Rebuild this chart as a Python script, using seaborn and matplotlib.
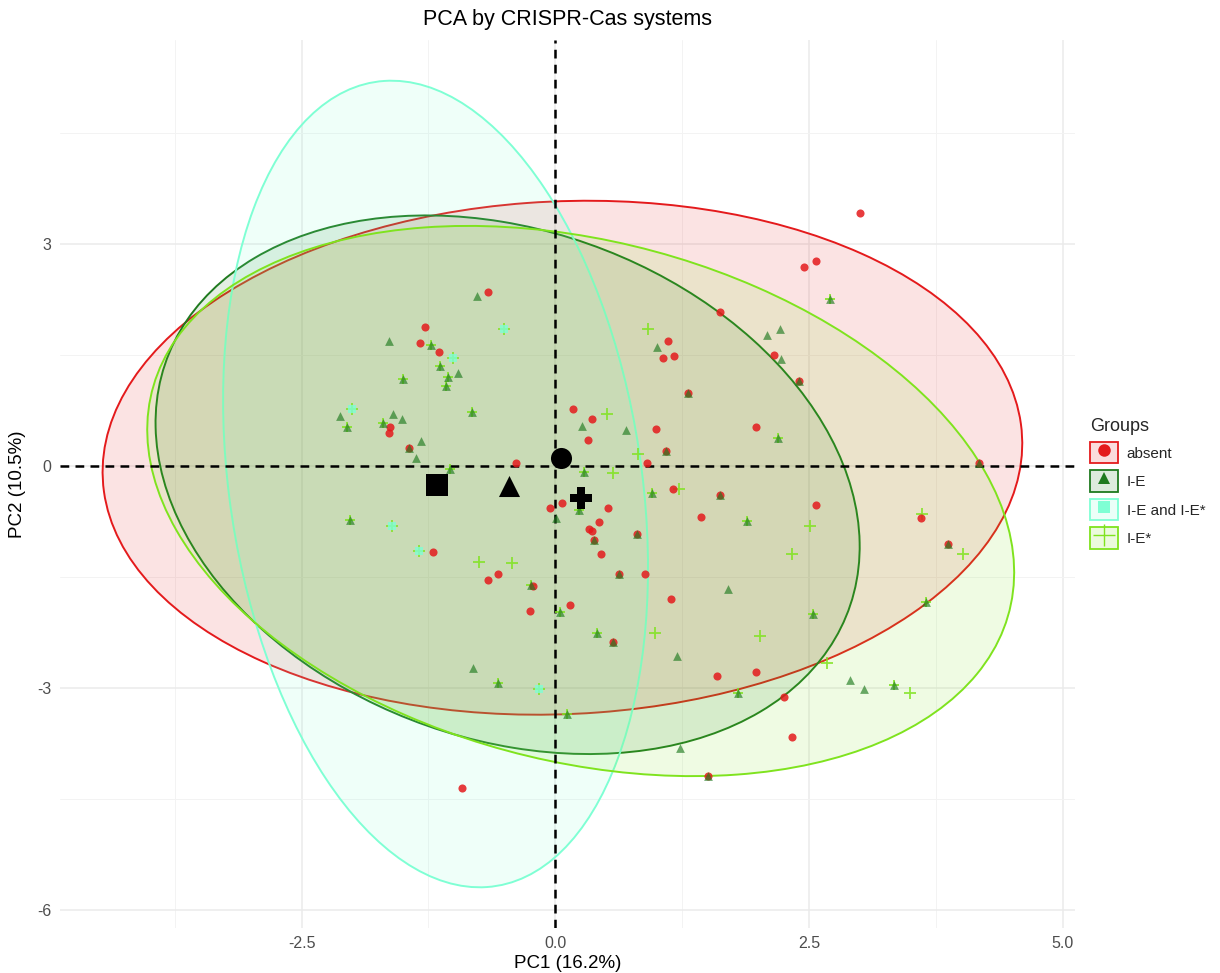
import numpy as np
import pandas as pd
import matplotlib
matplotlib.use("Agg")
import matplotlib.pyplot as plt
import seaborn as sns
from matplotlib.patches import Ellipse, Patch
from matplotlib.lines import Line2D
from matplotlib.legend_handler import HandlerTuple
from matplotlib.colors import to_rgba

# ---------------- data ----------------
groups = ["absent", "I-E", "I-E and I-E*", "I-E*"]
colors = ["#E41A1C", "#1F7A1F", "#7FFFD4", "#7FE31E"]
markers = ["o", "^", "s", "+"]

# individuals shown only with the 'absent' symbol
absent_x = [-0.66, -1.28, -1.33, -1.15, -1.63, -1.64, -1.21, -0.66, -0.56, -0.39, 0.17, 0.36, 0.99, 0.32, 0.90,
            1.98, 1.16, 1.44, 0.07, -0.05, 0.52, 0.43, 0.33, 0.36, 0.45, -0.22, 0.88, 1.14, -0.25, 0.14,
            1.59, 1.98, 2.45, 2.57, 1.62, 1.11, 1.06, 1.17, 2.15, 2.57, 3.60, 2.25, 2.33, -0.92, 3.00]
absent_y = [2.36, 1.88, 1.66, 1.54, 0.53, 0.45, -1.16, -1.54, -1.45, 0.05, 0.78, 0.64, 0.51, 0.35, 0.04,
            0.53, -0.31, -0.69, -0.49, -0.57, -0.57, -0.76, -0.85, -0.87, -1.18, -1.62, -1.45, -1.80, -1.96, -1.88,
            -2.84, -2.78, 2.69, 2.77, 2.09, 1.69, 1.46, 1.49, 1.50, -0.53, -0.70, -3.12, -3.66, -4.35, 3.42]

# individuals shown only with the 'I-E' symbol
ie_x = [-0.77, -1.64, -0.96, -2.12, -1.60, -1.51, -1.32, -1.37, 0.26, 0.70, 0.01, 1.70, 1.20, -0.81, 1.00,
        2.09, 2.21, 2.22, 2.90, 3.04, 1.23]
ie_y = [2.30, 1.69, 1.26, 0.68, 0.70, 0.64, 0.34, 0.11, 0.54, 0.49, -0.70, -1.66, -2.57, -2.72, 1.61,
        1.78, 1.86, 1.45, -2.89, -3.01, -3.81]

# individuals shown only with the 'I-E*' symbol
iestar_x = [-0.75, -0.43, 0.51, 0.81, 0.57, 1.22, 2.33, 0.98, 2.02, 0.91, 2.51, 3.61, 4.02, 2.68, 3.49]
iestar_y = [-1.30, -1.31, 0.70, 0.16, -0.09, -0.31, -1.18, -2.26, -2.30, 1.85, -0.81, -0.64, -1.18, -2.66, -3.07]

# overlapping symbols: absent + I-E
mixA_x = [-1.44, 1.31, 1.09, 1.62, 0.80, 0.63, 0.38, 2.40, 3.87, 4.17, 0.57, 1.50]
mixA_y = [0.24, 0.99, 0.20, -0.39, -0.92, -1.46, -0.99, 1.15, -1.05, 0.05, -2.38, -4.18]

# overlapping symbols: I-E + I-E*
mixB_x = [-1.22, -1.14, -1.06, -1.08, -1.50, -2.05, -1.70, -0.82, -1.04, -2.02, 2.19, 0.95, 1.89, 0.28, 0.23,
          -0.24, 0.05, 0.41, 2.54, 3.65, 1.80, 3.34, 2.71, -0.56, 0.12]
mixB_y = [1.64, 1.36, 1.20, 1.09, 1.18, 0.53, 0.59, 0.73, -0.04, -0.72, 0.38, -0.36, -0.74, -0.08, -0.59,
          -1.61, -1.97, -2.26, -2.00, -1.84, -3.07, -2.95, 2.26, -2.93, -3.35]

# overlapping symbols: I-E and I-E* + I-E*
mixC_x = [-1.01, -2.00, -1.61, -1.34, -0.51, -0.16]
mixC_y = [1.46, 0.77, -0.81, -1.15, 1.86, -3.01]

# group centroids
cent_x = [0.06, -0.46, -1.17, 0.25]
cent_y = [0.11, -0.27, -0.26, -0.43]
cent_markers = ["o", "^", "s", "P"]

# concentration ellipses (centre, semi-axes, rotation in degrees)
ell_cx = [0.07, -0.47, -1.18, 0.25]
ell_cy = [0.115, -0.25, -0.24, -0.47]
ell_a = [4.54, 3.95, 5.47, 4.55]
ell_b = [3.46, 3.11, 2.04, 3.37]
ell_angle = [5.8, -50.9, -84.7, -30.9]

x_ticks = [-2.5, 0.0, 2.5, 5.0]
x_ticklabels = ["-2.5", "0.0", "2.5", "5.0"]
y_ticks = [-6, -3, 0, 3]
y_ticklabels = ["-6", "-3", "0", "3"]

# ---------------- assemble ----------------
layers = [
    # (group, x, y, size, alpha, zorder)
    ("I-E*", iestar_x + mixC_x, iestar_y + mixC_y, 75, 0.85, 3),
    ("I-E*", mixB_x, mixB_y, 55, 0.9, 3),
    ("I-E and I-E*", mixC_x, mixC_y, 30, 0.8, 4),
    ("absent", absent_x + mixA_x, absent_y + mixA_y, 34, 0.85, 5),
    ("I-E", ie_x + mixA_x + mixB_x, ie_y + mixA_y + mixB_y, 40, 0.65, 6),
]

cent_df = pd.DataFrame({"PC1": cent_x, "PC2": cent_y, "Groups": groups})

# ---------------- plot ----------------
sns.set_theme(style="white")
plt.rcParams["font.family"] = ["Liberation Sans", "DejaVu Sans"]

fig = plt.figure(figsize=(12.2, 9.73), dpi=100)
ax = fig.add_axes([60 / 1220, 1 - 928 / 973, (1075 - 60) / 1220, (928 - 40) / 973])

ax.set_xlim(-4.88, 5.12)
ax.set_ylim(-6.24, 5.76)

# grid
ax.set_xticks(x_ticks)
ax.set_xticklabels(x_ticklabels)
ax.set_yticks(y_ticks)
ax.set_yticklabels(y_ticklabels)
ax.set_xticks([-3.75, -1.25, 1.25, 3.75], minor=True)
ax.set_yticks([-4.5, -1.5, 1.5, 4.5], minor=True)
ax.grid(True, which="major", color="#EBEBEB", linewidth=1.1, zorder=0)
ax.grid(True, which="minor", color="#F3F3F3", linewidth=0.7, zorder=0)
ax.set_axisbelow(True)
for s in ax.spines.values():
    s.set_visible(False)
ax.tick_params(axis="both", which="major", length=3, width=0.8, color="#333333",
               labelcolor="#4D4D4D", labelsize=11.5, pad=3)
ax.tick_params(axis="both", which="minor", length=0)

# ellipses
for i, g in enumerate(groups):
    e = Ellipse((ell_cx[i], ell_cy[i]), 2 * ell_a[i], 2 * ell_b[i], angle=ell_angle[i],
                facecolor=to_rgba(colors[i], 0.12), edgecolor=colors[i], linewidth=1.4, zorder=1)
    ax.add_patch(e)

# reference lines
ax.axhline(0, color="black", linestyle=(0, (3.5, 2.5)), linewidth=1.8, zorder=2)
ax.axvline(0, color="black", linestyle=(0, (3.5, 2.5)), linewidth=1.8, zorder=2)

# individuals
for g, xs, ys, s, a, z in layers:
    i = groups.index(g)
    sub = pd.DataFrame({"PC1": xs, "PC2": ys, "Groups": g})
    sns.scatterplot(data=sub, x="PC1", y="PC2", color=colors[i], marker=markers[i], s=s,
                    linewidth=(1.3 if markers[i] == "+" else 0), alpha=a, zorder=z,
                    ax=ax, legend=False)

# centroids
for i, g in enumerate(groups):
    sns.scatterplot(data=cent_df[cent_df["Groups"] == g], x="PC1", y="PC2", color="black",
                    marker=cent_markers[i], s=230, linewidth=0, ax=ax, legend=False, zorder=10)

# labels
ax.set_xlabel("PC1 (16.2%)", fontsize=13.5, color="black", labelpad=3)
ax.set_ylabel("PC2 (10.5%)", fontsize=13.5, color="black", labelpad=8)
ax.set_title("PCA by CRISPR-Cas systems", fontsize=15.5, color="black", pad=11)

# legend
handles = []
for i, g in enumerate(groups):
    box = Patch(facecolor=to_rgba(colors[i], 0.15), edgecolor=colors[i], linewidth=1.3)
    if markers[i] == "+":
        mk = Line2D([], [], marker="+", color=colors[i], linestyle="None", markersize=16, markeredgewidth=1.0)
    else:
        mk = Line2D([], [], marker=markers[i], color=colors[i], linestyle="None", markersize=9,
                    markeredgewidth=0)
    handles.append((box, mk))
leg = ax.legend(handles, groups, handler_map={tuple: HandlerTuple(ndivide=1, pad=0.0)},
                loc="upper left", bbox_to_anchor=(1090 / 1220, 1 - 418 / 973),
                bbox_transform=fig.transFigure, frameon=False, title="Groups",
                title_fontsize=13, fontsize=11, handlelength=1.8, handleheight=1.8,
                labelspacing=0.45, handletextpad=0.6, borderpad=0, borderaxespad=0)
leg._legend_box.align = "left"

fig.savefig("out.png", dpi=100)
